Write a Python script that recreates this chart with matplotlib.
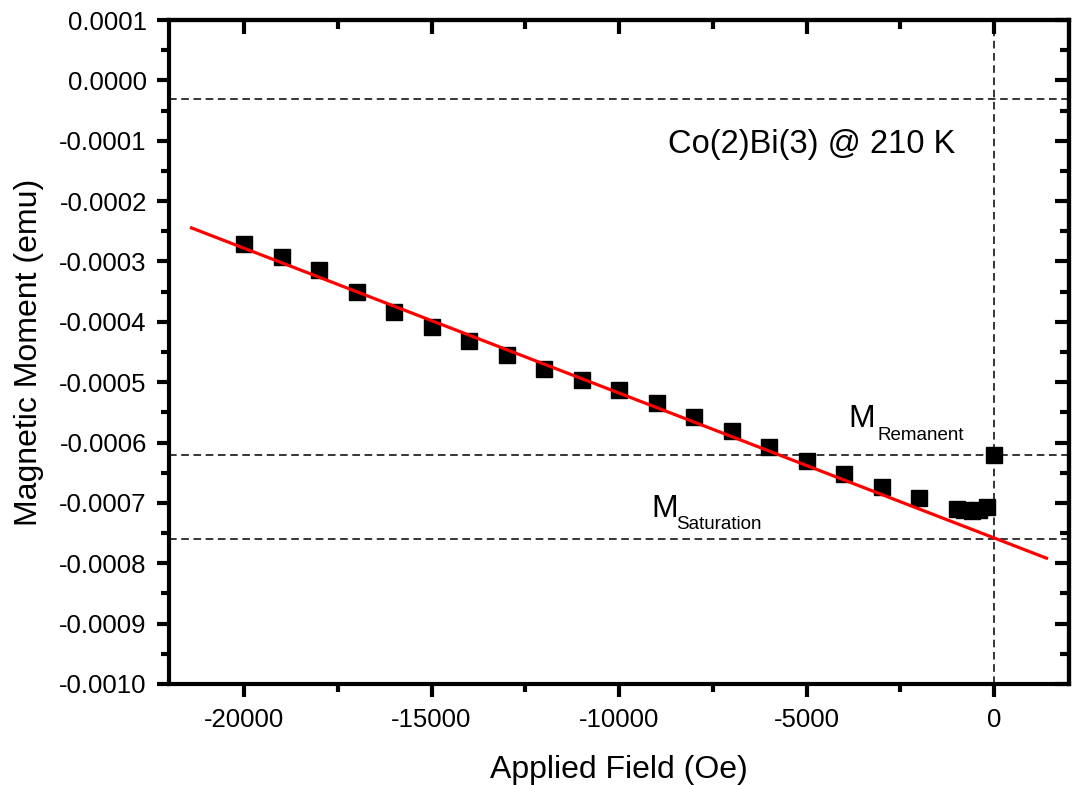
import numpy as np
import matplotlib
matplotlib.use("Agg")
import matplotlib.pyplot as plt
from matplotlib.ticker import FixedLocator, MultipleLocator, NullFormatter

plt.rcParams["font.family"] = ["Liberation Sans", "DejaVu Sans"]
plt.rcParams["axes.unicode_minus"] = False

# measured points (Oe, emu)
field = [-20000, -19000, -18000, -17000, -16000, -15000, -14000, -13000,
         -12000, -11000, -10000, -9000, -8000, -7000, -6000, -5000,
         -4000, -3000, -2000, -1000, -800, -600, -400, -200, 0]
moment = [-0.000271, -0.000293, -0.000314, -0.000351, -0.000384, -0.000409,
          -0.000432, -0.000455, -0.000478, -0.000496, -0.000513, -0.000535,
          -0.000558, -0.000581, -0.000607, -0.000631, -0.000652, -0.000674,
          -0.000692, -0.000710, -0.000712, -0.000714, -0.000712, -0.000706,
          -0.000620]

# linear fit of the high field part
fit_range = [-21400, 1400]
fit_slope = -2.4e-8
fit_intercept = -0.000758

# reference lines
m_top = -0.000031
m_remanent = -0.000621
m_saturation = -0.000760

x_major = [-20000, -15000, -10000, -5000, 0]
x_labels = ["-20000", "-15000", "-10000", "-5000", "0"]
y_major = [0.0001, 0.0, -0.0001, -0.0002, -0.0003, -0.0004, -0.0005,
           -0.0006, -0.0007, -0.0008, -0.0009, -0.0010]
y_labels = ["0.0001", "0.0000", "-0.0001", "-0.0002", "-0.0003", "-0.0004",
            "-0.0005", "-0.0006", "-0.0007", "-0.0008", "-0.0009", "-0.0010"]

fig = plt.figure(figsize=(10.73, 7.85), dpi=100)
ax = fig.add_axes([0.1575, 0.1287, 0.8388, 0.8458])

dash = (0, (5, 3))
for yv in (m_top, m_remanent, m_saturation):
    ax.axhline(yv, color="black", lw=1.1, ls=dash, zorder=1)
ax.axvline(0, color="black", lw=1.1, ls=dash, zorder=1)

ax.plot(field, moment, "s", color="black", ms=11, zorder=2)

fx = np.array(fit_range)
ax.plot(fx, np.polyval([fit_slope, fit_intercept], fx), color="red", lw=2.3, zorder=3)

ax.set_xlim(-22000, 2000)
ax.set_ylim(-0.0010, 0.0001)

ax.xaxis.set_major_locator(FixedLocator(x_major))
ax.set_xticklabels(x_labels)
ax.xaxis.set_minor_locator(MultipleLocator(2500))
ax.yaxis.set_major_locator(FixedLocator(y_major))
ax.set_yticklabels(y_labels)
ax.yaxis.set_minor_locator(MultipleLocator(0.00005))

for sp in ax.spines.values():
    sp.set_linewidth(3)

ax.tick_params(which="both", direction="out", width=3, labelsize=18.5,
               top=False, right=False)
ax.tick_params(which="major", length=9)
ax.tick_params(which="minor", length=5.5)
ax.tick_params(axis="x", pad=8)
ax.tick_params(axis="y", pad=7)

# inward ticks on top and right
top = ax.secondary_xaxis("top")
top.xaxis.set_major_locator(FixedLocator(x_major))
top.xaxis.set_minor_locator(MultipleLocator(2500))
top.xaxis.set_major_formatter(NullFormatter())
right = ax.secondary_yaxis("right")
right.yaxis.set_major_locator(FixedLocator(y_major))
right.yaxis.set_minor_locator(MultipleLocator(0.00005))
right.yaxis.set_major_formatter(NullFormatter())
for sec in (top, right):
    sec.tick_params(which="both", direction="in", width=3)
    sec.tick_params(which="major", length=10)
    sec.tick_params(which="minor", length=6.5)
    for sp in sec.spines.values():
        sp.set_linewidth(3)

ax.set_xlabel("Applied Field (Oe)", fontsize=23, labelpad=17)
ax.set_ylabel("Magnetic Moment (emu)", fontsize=23, labelpad=11)

ax.text(-8700, -0.00012, "Co(2)Bi(3) @ 210 K", fontsize=23.5, va="baseline")
ax.text(-3880, -0.000574, "M", fontsize=23, va="baseline")
ax.text(-3110, -0.000596, "Remanent", fontsize=13.5, va="baseline")
ax.text(-9150, -0.000723, "M", fontsize=23, va="baseline")
ax.text(-8470, -0.000743, "Saturation", fontsize=13.5, va="baseline")

fig.savefig("out.png", dpi=100)
